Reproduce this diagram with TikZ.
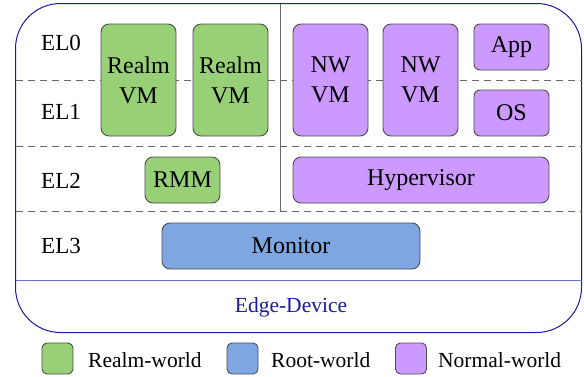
\documentclass[tikz,border=0pt]{standalone}
\usepackage{fontspec}
\setmainfont{Liberation Serif}
\begin{document}
\begin{tikzpicture}[x=1pt,y=-1pt,
  box/.style={draw=boxline,line width=0.9pt,rounded corners=8pt,inner sep=0pt,align=center,
    font=\fontsize{24}{30}\selectfont},
  realm/.style={box,fill=realmc},
  root/.style={box,fill=rootc},
  normal/.style={box,fill=normalc},
  ellab/.style={inner sep=0pt,font=\fontsize{23}{26}\selectfont},
  legbox/.style={draw=boxline,line width=0.9pt,rounded corners=5pt,minimum width=31pt,minimum height=31pt,inner sep=0pt},
  legtext/.style={inner sep=0pt,anchor=west,font=\fontsize{21.5}{24}\selectfont},
  dashline/.style={draw=gray!80!black,line width=1pt,dash pattern=on 7pt off 5pt}
]
\definecolor{realmc}{HTML}{97D077}
\definecolor{rootc}{HTML}{7EA6E0}
\definecolor{normalc}{HTML}{CC99FF}
\definecolor{boxline}{HTML}{4D4D4D}
\definecolor{edgeblue}{HTML}{1A1A9E}
\definecolor{sepblue}{HTML}{6F6FD2}
\useasboundingbox (0,0) rectangle (584,376);
% outer device
\draw[edgeblue,line width=1pt,rounded corners=45pt] (15.5,3.5) rectangle (581.5,332.5);
\draw[sepblue,line width=1.2pt] (15.5,280.5) -- (581.5,280.5);
% dashed level separators
\draw[dashline] (15.5,80.5) -- (581.5,80.5);
\draw[dashline] (15.5,146.5) -- (581.5,146.5);
\draw[dashline] (15.5,211.5) -- (581.5,211.5);
% world separator
\draw[gray!80!black,line width=1pt] (280.5,3.5) -- (280.5,211.5);
% EL labels
\node[ellab] (el0) at (61,43) {EL0};
\node[ellab] (el1) at (61,112) {EL1};
\node[ellab] (el2) at (61,181) {EL2};
\node[ellab] (el3) at (61,246) {EL3};
% realm world
\node[realm,minimum width=75pt,minimum height=112pt] (rvm1) at (138.5,80) {Realm\\VM};
\node[realm,minimum width=75pt,minimum height=112pt] (rvm2) at (230.5,80) {Realm\\VM};
\node[realm,minimum width=75pt,minimum height=46pt] (rmm) at (182.5,180) {RMM};
% normal world
\node[normal,minimum width=75pt,minimum height=112pt] (nvm1) at (330.5,80) {NW\\VM};
\node[normal,minimum width=75pt,minimum height=112pt] (nvm2) at (420.5,80) {NW\\VM};
\node[normal,minimum width=75pt,minimum height=46pt,rounded corners=6pt] (app) at (511.5,47) {App};
\node[normal,minimum width=75pt,minimum height=46pt,rounded corners=6pt] (os) at (511.5,113) {OS};
\node[normal,minimum width=256pt,minimum height=46pt] (hyp) at (421,180) {Hypervisor};
% root world
\node[root,minimum width=258pt,minimum height=46pt] (mon) at (291,246) {Monitor};
% device label
\node[inner sep=0pt,text=edgeblue,font=\fontsize{21.5}{24}\selectfont] (edge) at (291,307) {Edge-Device};
% legend
\node[legbox,fill=realmc] (lg1) at (57.5,358.5) {};
\node[legtext] (lt1) at (88,360) {Realm-world};
\node[legbox,fill=rootc] (lg2) at (242.5,358.5) {};
\node[legtext] (lt2) at (271,360) {Root-world};
\node[legbox,fill=normalc] (lg3) at (411,358.5) {};
\node[legtext] (lt3) at (438,360) {Normal-world};
\end{tikzpicture}
\end{document}
